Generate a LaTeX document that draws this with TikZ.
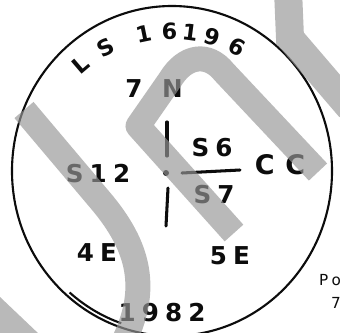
\documentclass[tikz,border=0pt]{standalone}
\usepackage{fontspec}
\newfontfamily\handfont[LetterSpace=25]{DejaVu Sans}
\definecolor{inkblack}{RGB}{12,12,12}
\definecolor{markgray}{RGB}{150,150,150}
\usetikzlibrary{calc}

\begin{document}
\begin{tikzpicture}[
  x=0.03cm, y=-0.03cm,
  hand/.style={inner sep=0pt, text=inkblack, font=\handfont\bfseries\fontsize{21}{25}\selectfont},
  small/.style={inner sep=0pt, text=inkblack, font=\handfont\fontsize{13}{15}\selectfont},
  rim/.style={draw=inkblack, line width=1.8pt},
  stroke/.style={draw=inkblack, line width=2.6pt, line cap=round},
  band/.style={draw=markgray, draw opacity=0.667, line width=0.75cm}
]
\clip (0,0) rectangle (340,332);
\fill[white] (0,0) rectangle (340,332);

% Disc outline
\coordinate (ctr) at (172,171);
\draw[rim] (ctr) ellipse [x radius=160, y radius=165];
\draw[rim] ([shift={(131:156 and 161)}]ctr) arc [start angle=131, end angle=109, x radius=156, y radius=161];

% Stamp number round the top
\foreach \ch/\ang [count=\i] in {L/130.5, S/118.5, 1/101.7, 6/91, 1/82.6, 9/73.3, 6/62.5}
  \node[hand, font=\handfont\bfseries\fontsize{19}{22}\selectfont, rotate=\ang-90] (ls\i) at ($(ctr)+(-\ang:140)$) {\ch};

% Labels
\node[hand] (north) at (154,89) {7\hspace{0.8em}N};
\node[hand] (west) at (98,174) {S12};
\node[hand] (upper) at (212,148) {S6};
\node[hand] (lower) at (214,195) {S7};
\node[hand, font=\handfont\bfseries\fontsize{23}{27}\selectfont] (east) at (280,165) {C\hspace{0.4em}C};
\node[hand] (swlab) at (97,253) {4E};
\node[hand] (selab) at (230,256) {5E};
\node[hand] (year) at (162,313) {1982};
\node[small, anchor=west] (note) at (319,280) {Po};
\node[small, anchor=west] (note2) at (331,303) {7};

% Cross mark
\coordinate (mark) at (166,173);
\draw[stroke] (167,122) -- (167,156);
\draw[stroke] (168,188) -- (166,226);
\fill[inkblack] (mark) circle [radius=3];
\draw[stroke] (182,173) -- (240,170);

% Watermark bands
\draw[band] (24,110) -- (100,200) .. controls (140,247) and (150,290) .. (122,345);
\draw[band, line join=round] (234,233) -- (138,126) -- (170,80) .. controls (185,55) and (208,52) .. (224,72) -- (318,172);
\draw[band, line width=0.84cm] (288,-10) -- (290,38) -- (350,108);
\fill[markgray, fill opacity=0.667] (0,297) -- (40,335) -- (0,335) -- cycle;
\end{tikzpicture}
\end{document}
